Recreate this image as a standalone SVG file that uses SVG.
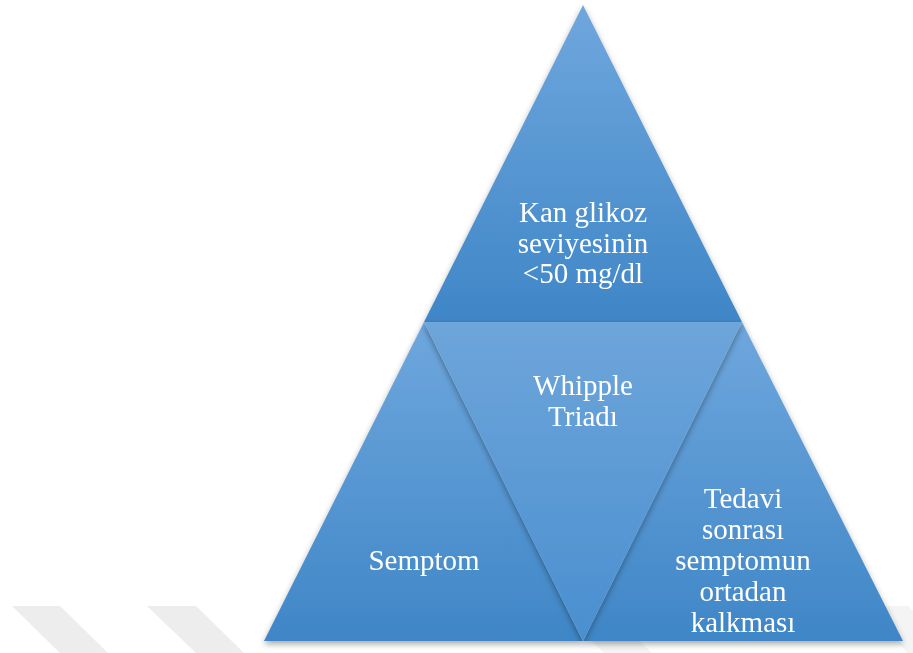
<svg xmlns="http://www.w3.org/2000/svg" width="913" height="653" viewBox="0 0 913 653">
<defs>
<linearGradient id="g" x1="0" y1="0" x2="0" y2="1">
<stop offset="0" stop-color="#6fa7dd"/>
<stop offset="1" stop-color="#3f86c7"/>
</linearGradient>
<linearGradient id="gm" x1="0" y1="0" x2="0" y2="1">
<stop offset="0" stop-color="#6ea5da"/>
<stop offset="1" stop-color="#4a8fd0"/>
</linearGradient>
<filter id="sh" x="-10%" y="-10%" width="120%" height="125%">
<feDropShadow dx="0" dy="3" stdDeviation="3" flood-color="#000" flood-opacity="0.35"/>
</filter>
<style>
.t{font-family:"Liberation Serif","Times New Roman",serif;font-size:29px;fill:#fff;text-anchor:middle}
.wm{fill:#ededed}
</style>
</defs>
<rect width="913" height="653" fill="#fff"/>
<g id="watermark">
<polygon class="wm" points="12,606 60,606 108,653 60,653"/>
<polygon class="wm" points="147,606 196,606 244,653 196,653"/>
<polygon class="wm" points="556,606 604,606 652,653 604,653" opacity="0.6"/>
<polygon class="wm" points="860,606 908,606 913,611 913,653 908,653" opacity="0.6"/>
</g>
<g id="top" filter="url(#sh)">
<polygon points="583,5 742,322 424,322" fill="url(#g)"/>
<text class="t" x="583" y="222">Kan glikoz</text>
<text class="t" x="583" y="253">seviyesinin</text>
<text class="t" x="583" y="283">&lt;50 mg/dl</text>
</g>
<g id="left" filter="url(#sh)">
<polygon points="424,322 583,641 264,641" fill="url(#g)"/>
<text class="t" x="424" y="570">Semptom</text>
</g>
<g id="right" filter="url(#sh)">
<polygon points="742,322 903,641 583,641" fill="url(#g)"/>
<text class="t" x="743" y="508">Tedavi</text>
<text class="t" x="743" y="539">sonrası</text>
<text class="t" x="743" y="570">semptomun</text>
<text class="t" x="743" y="601">ortadan</text>
<text class="t" x="743" y="632">kalkması</text>
</g>
<g id="center" filter="url(#sh)">
<polygon points="424,322 742,322 583,641" fill="url(#gm)"/>
<text class="t" x="583" y="395">Whipple</text>
<text class="t" x="583" y="426">Triadı</text>
</g>
<g id="connectors"/>
</svg>
